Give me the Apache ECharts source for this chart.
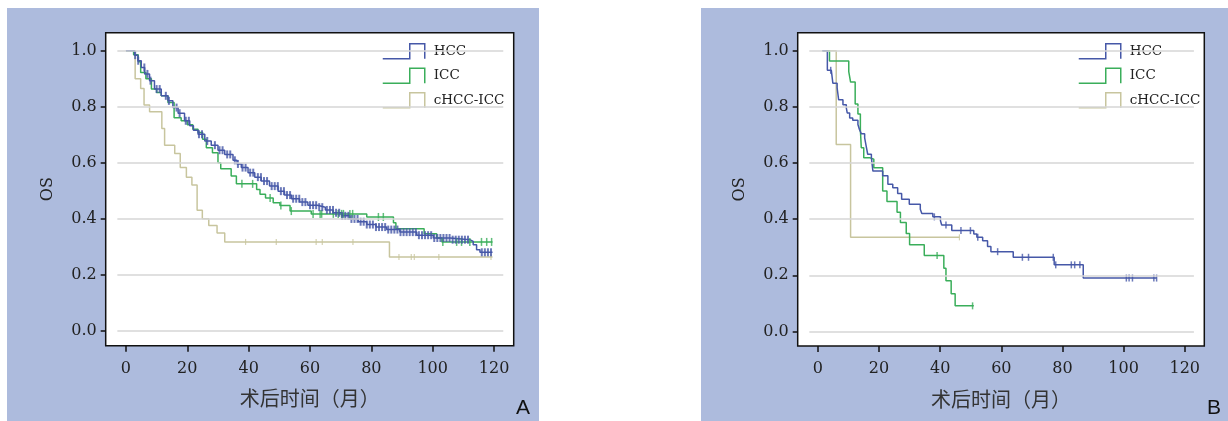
<!DOCTYPE html>
<html>
<head>
<meta charset="utf-8">
<script src="https://cdn.jsdelivr.net/npm/echarts@6.0.0/dist/echarts.min.js"></script>
<style>
  html, body { margin: 0; padding: 0; background: #fff; }
  #main { width: 1228px; height: 421px; }
</style>
</head>
<body>
<div id="main"></div>
<script>
// Panel A : drop times (months) and survival after each drop
const hccA_t = [0, 2.8, 3.9, 5, 6.1, 7.7, 9.3, 11.5, 13.7, 15.3, 17, 19.1, 20.8, 22, 23.5, 25.7, 27.8, 30, 32.2, 34.9, 36.2, 37.6, 39.8, 42, 44.1, 46.8, 49.6, 51.7, 53.9, 56.6, 59.3, 62.4, 65, 67.6, 70.3, 73, 75.7, 78.5, 81.5, 85, 89.3, 94.8, 100.2, 105.6, 112.1, 113.2, 114.3, 115.4, 119.5]
const hccA_s = [1, 0.984, 0.964, 0.94, 0.917, 0.893, 0.863, 0.839, 0.821, 0.797, 0.777, 0.75, 0.732, 0.716, 0.702, 0.678, 0.663, 0.645, 0.63, 0.609, 0.596, 0.583, 0.565, 0.549, 0.535, 0.517, 0.499, 0.485, 0.472, 0.46, 0.449, 0.442, 0.432, 0.422, 0.411, 0.4, 0.39, 0.38, 0.371, 0.362, 0.353, 0.342, 0.332, 0.326, 0.32, 0.308, 0.29, 0.281, 0.281]
const hccA_cens = [3, 4, 6, 7, 8, 10, 11, 13, 14, 16.5, 17.5, 19.5, 20.5, 23.8, 24.8, 26.5, 29, 30.5, 31.5, 33, 34, 35.5, 36.5, 38, 39, 40.5, 41.5, 43, 44, 45, 46, 47.5, 48.5, 49.5, 50.5, 51.5, 52.5, 53.5, 54.5, 55.5, 56.5, 57.5, 58.5, 60, 61, 62, 63, 64, 65.5, 66.5, 67.5, 68.5, 69.5, 70.5, 71.5, 72.5, 73.5, 74.5, 75.5, 76.5, 77.5, 78.5, 79.5, 80.5, 81.5, 82.5, 83.5, 84.5, 85.5, 86.5, 87.5, 88.5, 89.5, 90.5, 91.5, 92.5, 93.5, 94.5, 95.5, 96.5, 97.5, 98.5, 99.5, 100.5, 101.5, 102.5, 103.5, 104.5, 105.5, 106.5, 107.5, 108.5, 109.5, 110.5, 111.5, 116, 117, 118, 119]

const iccA_t = [0, 2.5, 4, 4.8, 6.5, 8.3, 10, 11.5, 13.7, 15.7, 18, 20, 21.8, 23.5, 25, 26.2, 28.2, 30, 30.9, 34.3, 36, 42.6, 43.7, 45.5, 48, 50.2, 53.5, 60.4, 78.5, 87.2, 88, 97.2, 101.3, 103, 119.5]
const iccA_s = [1, 0.985, 0.96, 0.922, 0.9, 0.863, 0.851, 0.839, 0.815, 0.761, 0.75, 0.736, 0.72, 0.708, 0.684, 0.654, 0.636, 0.6, 0.579, 0.553, 0.525, 0.505, 0.488, 0.475, 0.458, 0.448, 0.428, 0.418, 0.407, 0.386, 0.365, 0.347, 0.332, 0.318, 0.318]
const iccA_cens = [37.8, 41.3, 47, 50.5, 53.9, 61, 63.3, 63.8, 67.6, 69.2, 70.3, 70.9, 73, 73.9, 82.3, 83.9, 103.3, 107.8, 109.4, 112.1, 115.9, 117.6, 119.2]

const mixA_t = [0, 3, 4.8, 5.9, 7.7, 11.7, 12.6, 15.9, 17.7, 19.7, 21.5, 23.2, 24.9, 27, 29.7, 32.2, 85.9, 119.5]
const mixA_s = [1, 0.9, 0.865, 0.806, 0.782, 0.722, 0.663, 0.633, 0.583, 0.549, 0.521, 0.431, 0.401, 0.377, 0.35, 0.318, 0.264, 0.264]
const mixA_cens = [39, 49, 62, 64, 74, 89, 93, 94, 102, 119]

// Panel B
const hccB_t = [1.5, 3.1, 4.4, 4.9, 6.3, 6.8, 8.2, 9.3, 9.6, 10.4, 11.4, 13.1, 13.6, 14.2, 15.3, 15.8, 16.3, 17.5, 18, 21.2, 22.9, 24.5, 26.1, 27.4, 29.9, 33.5, 34, 37.6, 40.1, 40.5, 43.8, 51, 52, 53.9, 55.5, 56.6, 63.9, 77.3, 86.8, 110.8]
const hccB_s = [1, 0.93, 0.923, 0.884, 0.867, 0.825, 0.807, 0.796, 0.778, 0.76, 0.752, 0.737, 0.719, 0.704, 0.689, 0.66, 0.631, 0.619, 0.571, 0.554, 0.524, 0.512, 0.491, 0.471, 0.453, 0.435, 0.42, 0.408, 0.394, 0.379, 0.359, 0.347, 0.335, 0.323, 0.302, 0.284, 0.264, 0.237, 0.19, 0.19]
const hccB_cens = [4.2, 38.1, 41.9, 46.8, 49.9, 52.3, 58.8, 66.9, 68.9, 77, 77.8, 82.9, 84, 85.7, 100.9, 101.8, 102.9, 109.9, 110.8]

const iccB_t = [1.5, 3.8, 10.1, 10.7, 12.2, 13.1, 13.9, 14.2, 15, 16.9, 18.3, 21.2, 22.6, 25.9, 27, 28.9, 30, 34.8, 41.2, 41.9, 43.6, 44.9, 51]
const iccB_s = [1, 0.963, 0.925, 0.888, 0.81, 0.774, 0.719, 0.654, 0.619, 0.613, 0.583, 0.5, 0.463, 0.424, 0.388, 0.349, 0.309, 0.27, 0.225, 0.18, 0.134, 0.091, 0.091]
const iccB_cens = [39, 50.6]

const mixB_t = [1.5, 6, 10.7, 46.3]
const mixB_s = [1, 0.666, 0.335, 0.335]
const mixB_cens = [46.3]

const groups = ['HCC', 'ICC', 'cHCC-ICC']
const yTicks = [0, 0.2, 0.4, 0.6, 0.8, 1.0]
const xTicks = [0, 20, 40, 60, 80, 100, 120]

const colors = { 'HCC': '#4658a8', 'ICC': '#3aae5a', 'cHCC-ICC': '#c8c59e' }
const serif = 'DejaVu Serif'

function pairs(t, s) {
  return t.map((v, i) => [v, s[i]])
}
function survAt(t, s, c) {
  let v = s[0]
  for (let i = 0; i < t.length; i++) {
    if (t[i] <= c) v = s[i]
  }
  return v
}
function censorPts(t, s, cens) {
  return cens.map(c => [c, survAt(t, s, c)])
}

const chart = echarts.init(document.getElementById('main'), null, { renderer: 'canvas' })

function axesFor(idx) {
  const x = {
    type: 'value', gridIndex: idx, min: -6.6, max: 126.4,
    axisLine: { show: false, onZero: false },
    splitLine: { show: false },
    axisTick: { show: true, length: 6, customValues: xTicks, lineStyle: { color: '#111', width: 1.5 } },
    axisLabel: { customValues: xTicks, margin: 15, color: '#222', fontFamily: serif, fontSize: 16 },
    name: '术后时间（月）', nameLocation: 'middle', nameGap: 43,
    nameTextStyle: { fontFamily: 'Noto Sans CJK SC', fontSize: 20, color: '#333' }
  }
  const y = {
    type: 'value', gridIndex: idx, min: -0.052, max: 1.064,
    axisLine: { show: false, onZero: false },
    splitLine: { show: false },
    axisTick: { show: true, length: 5, customValues: yTicks, lineStyle: { color: '#111', width: 1.5 } },
    axisLabel: { customValues: yTicks, margin: 9, color: '#222', fontFamily: serif, fontSize: 16,
      formatter: v => v.toFixed(1) },
    name: 'OS', nameLocation: 'middle', nameGap: 50,
    nameTextStyle: { fontFamily: serif, fontSize: 16, color: '#222' }
  }
  return [x, y]
}

function panelSeries(idx, curves) {
  const out = []
  out.push({
    type: 'line', xAxisIndex: idx, yAxisIndex: idx, data: [], silent: true, z: 1,
    markLine: {
      silent: true, symbol: 'none', animation: false,
      label: { show: false },
      lineStyle: { color: '#d6d6d6', width: 1.5, type: 'solid' },
      data: yTicks.map(v => [{ coord: [-2.8, v] }, { coord: [123, v] }])
    }
  })
  curves.forEach(c => {
    out.push({
      name: c.name, type: 'line', step: 'end', xAxisIndex: idx, yAxisIndex: idx,
      data: pairs(c.t, c.s), showSymbol: false, symbol: 'none', z: 3,
      lineStyle: { color: colors[c.name], width: 1.5 },
      itemStyle: { color: colors[c.name] }
    })
    out.push({
      type: 'scatter', xAxisIndex: idx, yAxisIndex: idx, z: 4, silent: true,
      data: censorPts(c.t, c.s, c.cens),
      symbol: 'rect', symbolSize: c.mark,
      itemStyle: { color: colors[c.name] }
    })
  })
  return out
}

function legendFor(left) {
  return {
    left: left, top: 43, orient: 'vertical', padding: 0,
    itemWidth: 42, itemHeight: 15, itemGap: 8,
    icon: 'path://M0,15L27,15L27,0L42,0L42,15',
    textStyle: { fontFamily: serif, fontSize: 13.5, color: '#222', padding: [0, 0, 0, 4] },
    selectedMode: false,
    data: groups.map(g => ({
      name: g,
      itemStyle: { color: 'transparent', borderColor: colors[g], borderWidth: 1.5 }
    }))
  }
}

const [xA, yA] = axesFor(0)
const [xB, yB] = axesFor(1)

const option = {
  animation: false,
  graphic: [
    { type: 'rect', z: -100, shape: { x: 7, y: 8, width: 532, height: 413 }, style: { fill: '#adbbdd' } },
    { type: 'rect', z: -100, shape: { x: 701, y: 8, width: 527, height: 413 }, style: { fill: '#adbbdd' } },
    { type: 'text', z: 10, left: 516, top: 398, style: { text: 'A', fontFamily: 'Liberation Sans', fontSize: 21, fill: '#111' } },
    { type: 'text', z: 10, left: 1207, top: 398, style: { text: 'B', fontFamily: 'Liberation Sans', fontSize: 21, fill: '#111' } }
  ],
  grid: [
    { left: 105.7, top: 32.7, width: 408, height: 313, show: true, backgroundColor: '#fff', borderColor: '#111', borderWidth: 1.5 },
    { left: 797.7, top: 32.7, width: 406.6, height: 313.3, show: true, backgroundColor: '#fff', borderColor: '#111', borderWidth: 1.5 }
  ],
  xAxis: [xA, xB],
  yAxis: [yA, yB],
  legend: [legendFor(382), legendFor(1078)],
  series: [
    ...panelSeries(0, [
      { name: 'cHCC-ICC', t: mixA_t, s: mixA_s, cens: mixA_cens, mark: [1.2, 6] },
      { name: 'ICC', t: iccA_t, s: iccA_s, cens: iccA_cens, mark: [1.5, 8] },
      { name: 'HCC', t: hccA_t, s: hccA_s, cens: hccA_cens, mark: [2, 8] }
    ]),
    ...panelSeries(1, [
      { name: 'cHCC-ICC', t: mixB_t, s: mixB_s, cens: mixB_cens, mark: [1.2, 6] },
      { name: 'ICC', t: iccB_t, s: iccB_s, cens: iccB_cens, mark: [1.5, 7] },
      { name: 'HCC', t: hccB_t, s: hccB_s, cens: hccB_cens, mark: [1.5, 7] }
    ])
  ]
}

chart.setOption(option)
</script>
</body>
</html>
